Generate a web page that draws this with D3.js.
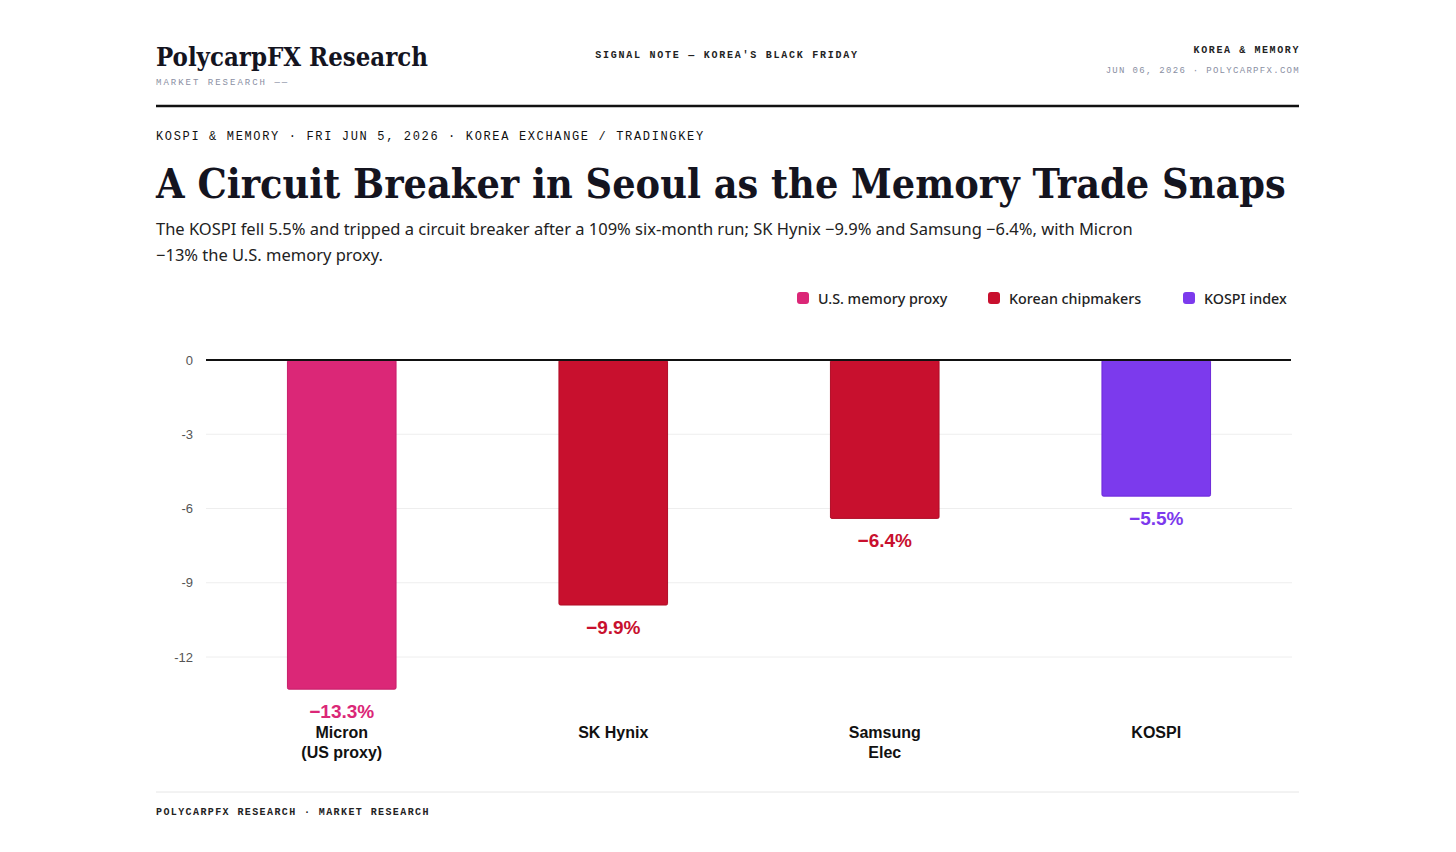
<!DOCTYPE html>
<html>
<head>
<meta charset="utf-8">
<script src="https://cdn.jsdelivr.net/npm/d3@7"></script>
<style>
  body { margin: 0; background: #fff; }
  svg { display: block; }
</style>
</head>
<body>
<div id="chart"></div>
<script>
// data
var categories = ["Micron\n(US proxy)", "SK Hynix", "Samsung\nElec", "KOSPI"];
var values = [-13.3, -9.9, -6.4, -5.5];
var groups = ["us", "kr", "kr", "idx"];
var yTicks = [0, -3, -6, -9, -12];
var legendLabels = ["U.S. memory proxy", "Korean chipmakers", "KOSPI index"];
var legendKeys = ["us", "kr", "idx"];

var color = d3.scaleOrdinal()
    .domain(["us", "kr", "idx"])
    .range(["#db2777", "#c8102e", "#7c3aed"]);
var stroke = d3.scaleOrdinal()
    .domain(["us", "kr", "idx"])
    .range(["#c81e6a", "#b00d27", "#6d28d9"]);

var W = 1456, H = 852;
var svg = d3.select("#chart").append("svg")
    .attr("width", W)
    .attr("height", H);

var mono = "'Liberation Mono', 'Courier New', monospace";
var serif = "Georgia, 'DejaVu Serif Condensed', 'DejaVu Serif', serif";
var sans = "'Noto Sans', 'Open Sans', sans-serif";
var arial = "'Liberation Sans', Arial, sans-serif";

// shrink/grow a serif text so it spans the same width as in the reference
function fitWidth(sel, size, target) {
    var w = sel.node().getComputedTextLength();
    sel.style("font-size", (size * target / w) + "px");
}

// header
var brand = svg.append("text")
    .attr("x", 156).attr("y", 66)
    .style("font", "bold 26px " + serif)
    .style("fill", "#14141f")
    .text("PolycarpFX Research");
fitWidth(brand, 26, 272);
svg.append("text")
    .attr("x", 156).attr("y", 85)
    .style("font", "9px " + mono)
    .style("letter-spacing", "2px")
    .style("fill", "#8a8fa3")
    .text("MARKET RESEARCH ——");
svg.append("text")
    .attr("x", 727).attr("y", 58)
    .attr("text-anchor", "middle")
    .style("font", "bold 10px " + mono)
    .style("letter-spacing", "1.75px")
    .style("fill", "#222")
    .text("SIGNAL NOTE — KOREA'S BLACK FRIDAY");
svg.append("text")
    .attr("x", 1300).attr("y", 53)
    .attr("text-anchor", "end")
    .style("font", "bold 10px " + mono)
    .style("letter-spacing", "1.6px")
    .style("fill", "#222")
    .text("KOREA & MEMORY");
svg.append("text")
    .attr("x", 1300).attr("y", 73)
    .attr("text-anchor", "end")
    .style("font", "9px " + mono)
    .style("letter-spacing", "1.3px")
    .style("fill", "#8a8fa3")
    .text("JUN 06, 2026 · POLYCARPFX.COM");

svg.append("line")
    .attr("x1", 156).attr("x2", 1299)
    .attr("y1", 106).attr("y2", 106)
    .attr("stroke", "#111").attr("stroke-width", 2.5);

// kicker, title, subtitle
svg.append("text")
    .attr("x", 156).attr("y", 140)
    .style("font", "12px " + mono)
    .style("letter-spacing", "1.65px")
    .style("fill", "#111")
    .text("KOSPI & MEMORY · FRI JUN 5, 2026 · KOREA EXCHANGE / TRADINGKEY");
var title = svg.append("text")
    .attr("x", 156).attr("y", 198)
    .style("font", "bold 44px " + serif)
    .style("fill", "#14141f")
    .text("A Circuit Breaker in Seoul as the Memory Trade Snaps");
fitWidth(title, 44, 1130);
var sub = ["The KOSPI fell 5.5% and tripped a circuit breaker after a 109% six-month run; SK Hynix \u22129.9% and Samsung \u22126.4%, with Micron",
           "\u221213% the U.S. memory proxy."];
sub.forEach(function(s, i) {
    svg.append("text")
        .attr("x", 156).attr("y", 235 + i * 26)
        .style("font", "16.5px " + sans)
        .style("fill", "#222")
        .text(s);
});

// legend
var legendX = [797, 988, 1183];
var lg = svg.append("g").selectAll("g")
    .data(legendKeys)
    .enter().append("g")
    .attr("transform", function(d, i) { return "translate(" + legendX[i] + ",292)"; });
lg.append("rect")
    .attr("width", 12).attr("height", 12).attr("rx", 3)
    .attr("fill", function(d) { return color(d); });
lg.append("text")
    .attr("x", 21).attr("y", 11.5)
    .style("font", "500 14.3px " + sans)
    .style("fill", "#222")
    .text(function(d, i) { return legendLabels[i]; });

// chart
var x = d3.scaleBand()
    .domain(d3.range(categories.length))
    .range([206, 1292])
    .paddingInner(0.6)
    .paddingOuter(0.3);
var y = d3.scaleLinear()
    .domain([0, -12])
    .range([360, 657]);

svg.append("g").selectAll("line")
    .data(yTicks.filter(function(d) { return d !== 0; }))
    .enter().append("line")
    .attr("x1", 206).attr("x2", 1292)
    .attr("y1", function(d) { return y(d); })
    .attr("y2", function(d) { return y(d); })
    .attr("stroke", "#eeeeee");

svg.append("g").selectAll("text")
    .data(yTicks)
    .enter().append("text")
    .attr("x", 193)
    .attr("y", function(d) { return y(d) + 4.5; })
    .attr("text-anchor", "end")
    .style("font", "13px " + arial)
    .style("fill", "#555")
    .text(function(d) { return d; });

svg.append("g").selectAll("rect")
    .data(values)
    .enter().append("rect")
    .attr("x", function(d, i) { return x(i); })
    .attr("width", x.bandwidth())
    .attr("y", y(0))
    .attr("height", function(d) { return y(d) - y(0); })
    .attr("rx", 1.5)
    .attr("fill", function(d, i) { return color(groups[i]); })
    .attr("stroke", function(d, i) { return stroke(groups[i]); })
    .attr("stroke-width", 1);

svg.append("line")
    .attr("x1", 206).attr("x2", 1291)
    .attr("y1", y(0)).attr("y2", y(0))
    .attr("stroke", "#111").attr("stroke-width", 2);

svg.append("g").selectAll("text")
    .data(values)
    .enter().append("text")
    .attr("x", function(d, i) { return x(i) + x.bandwidth() / 2; })
    .attr("y", function(d) { return y(d) + 29; })
    .attr("text-anchor", "middle")
    .style("font", "bold 19px " + arial)
    .style("fill", function(d, i) { return color(groups[i]); })
    .text(function(d) { return "\u2212" + Math.abs(d).toFixed(1) + "%"; });

var cat = svg.append("g").selectAll("text")
    .data(categories)
    .enter().append("text")
    .attr("x", function(d, i) { return x(i) + x.bandwidth() / 2; })
    .attr("y", 738)
    .attr("text-anchor", "middle")
    .style("font", "bold 16px " + arial)
    .style("fill", "#111");
cat.each(function(d, i) {
    var t = d3.select(this);
    d.split("\n").forEach(function(line, j) {
        t.append("tspan")
            .attr("x", x(i) + x.bandwidth() / 2)
            .attr("dy", j === 0 ? 0 : 20)
            .text(line);
    });
});

// footer
svg.append("line")
    .attr("x1", 156).attr("x2", 1299)
    .attr("y1", 792).attr("y2", 792)
    .attr("stroke", "#e6e6e6");
svg.append("text")
    .attr("x", 156).attr("y", 815)
    .style("font", "bold 10px " + mono)
    .style("letter-spacing", "1.4px")
    .style("fill", "#222")
    .text("POLYCARPFX RESEARCH · MARKET RESEARCH");
</script>
</body>
</html>
